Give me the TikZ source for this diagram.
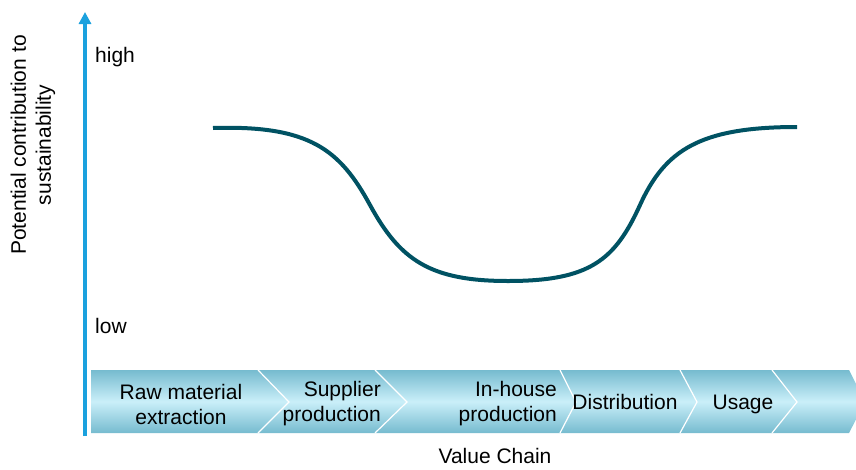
\documentclass[tikz,border=0pt]{standalone}
\usepackage{fontspec}
\setmainfont{Liberation Sans}
\usetikzlibrary{arrows.meta,shapes}
\definecolor{axisblue}{RGB}{27,161,222}
\definecolor{curveteal}{RGB}{0,82,99}
\definecolor{bandedge}{RGB}{118,187,207}
\definecolor{bandmid}{RGB}{202,239,249}
\newcommand{\labsize}{\fontsize{21}{25}\selectfont}

\begin{document}
\begin{tikzpicture}[x=1pt,y=-1pt,
        every node/.style={inner sep=0pt, font=\labsize},
        axisline/.style={draw=axisblue, line width=4pt, -{Triangle[width=12pt,length=12pt]}},
        chainband/.style={top color=bandedge, bottom color=bandedge, middle color=bandmid},
        sepline/.style={draw=white, line width=1.2pt},
        riskcurve/.style={draw=curveteal, line width=4pt}]
            \clip (0,0) rectangle (856,469);
            % value chain band
            \path[chainband] (91,370) -- (849,370) -- (865,402) -- (849,433) -- (91,433) -- cycle;
            \foreach \t/\p in {258/289, 375/407, 560/576, 680/697, 772/797}
                \draw[sepline] (\t,370) -- (\p,402) -- (\t,433);
            
            % axis
            \coordinate (axisbot) at (85,436);
            \coordinate (axistop) at (85,12);
            \draw[axisline] (axisbot) -- (axistop);
            \node[anchor=base west] (high) at (95,62) {high};
            \node[anchor=base west] (low) at (95,333) {low};
            \node[rotate=90, align=center] (ylab) at (33,145) {Potential contribution to\\sustainability};
            \node[anchor=base] (xlab) at (495,463) {Value Chain};
            
            % stages
            \node[align=center] (raw) at (181,404) {Raw material\\extraction};
            \node[align=right, anchor=east] (supp) at (381,404) {Supplier\\production};
            \node[align=right, anchor=east] (inh) at (557,404) {In-house\\production};
            \node[anchor=base] (dist) at (625,409) {Distribution};
            \node[anchor=base] (use) at (743,409) {Usage};
            
            % curve
            \draw[riskcurve] (213,128) .. controls (310,125) and (340,150) .. (370,205)
                .. controls (400,260) and (430,281) .. (508,281)
                .. controls (590,281) and (615,260) .. (640,205)
                .. controls (665,150) and (700,127) .. (797,127);
        \end{tikzpicture}
\end{document}
